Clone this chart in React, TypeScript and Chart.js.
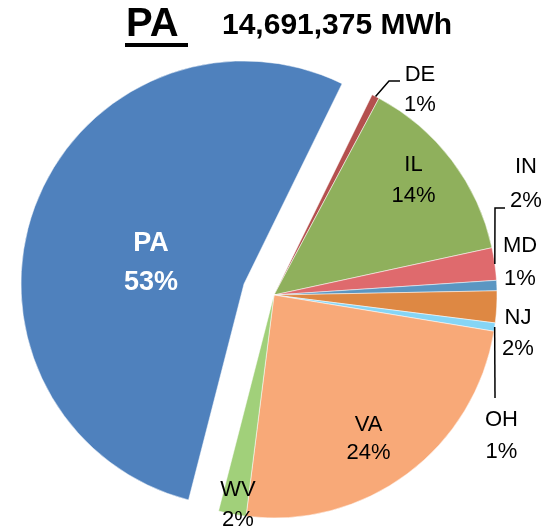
import React, { useEffect, useRef } from 'react';
import { Chart, registerables } from 'chart.js';

Chart.register(...registerables);

// ---- data ----
const categories = ['DE', 'IL', 'IN', 'MD', 'NJ', 'OH', 'VA', 'WV', 'PA'];
const shares = [0.55, 13.8, 2.35, 0.75, 2.3, 0.6, 24.4, 2.0, 53.25]; // % of total generation
const titleState = 'PA';
const titleTotal = '14,691,375 MWh';
const explodedCategory = 'PA';

// ---- styles ----
const colors = ['#B4504E', '#8FB05C', '#DF6A6D', '#5B96C2', '#DE8843', '#86D5F5', '#F8A978', '#A1D07A', '#4F81BD'];
const FONT = "'Liberation Sans', Arial, sans-serif";
const START_ANGLE = 26.1;
const RADIUS = 223;
const EXPLODE = 32;

// label anchor layout (centre of two-line label) and optional leader elbows
const labelLayout: Record<string, { x: number; y: number; lh?: number; color?: string; bold?: boolean; size?: number; leader?: number[][] }> = {
  DE: { x: 420, y: 90, lh: 30.5, leader: [[389, 81], [400, 81]] },
  IL: { x: 413.5, y: 180, lh: 31 },
  IN: { x: 526, y: 184, lh: 34, leader: [[495, 208], [505, 208]] },
  MD: { x: 520, y: 262, lh: 33 },
  NJ: { x: 518, y: 333.5, lh: 31 },
  OH: { x: 501.5, y: 436, lh: 31.5, leader: [[495, 398]] },
  VA: { x: 368.5, y: 439, lh: 28.5 },
  WV: { x: 238, y: 505, lh: 30 },
  PA: { x: 151, y: 263, lh: 39.5, color: '#ffffff', bold: true, size: 27 },
};

const explodePlugin = {
  id: 'explodeSlice',
  afterDatasetUpdate(chart: any, args: any) {
    const idx = categories.indexOf(explodedCategory);
    const arc: any = args.meta.data[idx];
    if (!arc) return;
    const mid = (arc.startAngle + arc.endAngle) / 2;
    arc.x += Math.cos(mid) * EXPLODE;
    arc.y += Math.sin(mid) * EXPLODE;
  },
};

const annotatePlugin = {
  id: 'annotate',
  afterDraw(chart: any) {
    const ctx: CanvasRenderingContext2D = chart.ctx;
    const meta = chart.getDatasetMeta(0);
    const total = shares.reduce((a, b) => a + b, 0);
    ctx.save();
    // title
    ctx.fillStyle = '#000';
    ctx.textBaseline = 'alphabetic';
    ctx.textAlign = 'left';
    ctx.font = `bold 40px ${FONT}`;
    ctx.fillText(titleState, 126, 36);
    ctx.fillRect(125, 43, 63, 4);
    ctx.font = `bold 30px ${FONT}`;
    ctx.fillText(titleTotal, 222, 34);

    // leaders
    ctx.strokeStyle = '#000';
    ctx.lineWidth = 1.5;
    categories.forEach((c, i) => {
      const L = labelLayout[c];
      if (!L || !L.leader) return;
      const arc: any = meta.data[i];
      const mid = (arc.startAngle + arc.endAngle) / 2;
      const sx = arc.x + Math.cos(mid) * arc.outerRadius;
      const sy = arc.y + Math.sin(mid) * arc.outerRadius;
      ctx.beginPath();
      ctx.moveTo(sx, sy);
      L.leader.forEach(([px, py]) => ctx.lineTo(px, py));
      ctx.stroke();
    });

    // labels
    ctx.textAlign = 'center';
    ctx.textBaseline = 'middle';
    categories.forEach((c, i) => {
      const L = labelLayout[c];
      if (!L) return;
      const lh = L.lh ?? 31;
      const size = L.size ?? 22;
      ctx.font = `${L.bold ? 'bold ' : ''}${size}px ${FONT}`;
      ctx.fillStyle = L.color ?? '#000';
      const pct = Math.round((shares[i] / total) * 100) + '%';
      ctx.fillText(c, L.x, L.y - lh / 2);
      ctx.fillText(pct, L.x, L.y + lh / 2);
    });
    ctx.restore();
  },
};

export default function App() {
  const ref = useRef<HTMLCanvasElement>(null);
  useEffect(() => {
    document.body.style.margin = '0';
    const chart = new Chart(ref.current as HTMLCanvasElement, {
      type: 'pie',
      data: {
        labels: categories,
        datasets: [
          {
            data: shares,
            backgroundColor: colors,
            borderColor: '#ffffff',
            borderWidth: 0.5,
          },
        ],
      },
      options: {
        animation: false,
        responsive: false,
        devicePixelRatio: 1,
        rotation: START_ANGLE,
        radius: RADIUS,
        events: [],
        layout: { padding: { left: 5, top: 61, right: 0, bottom: 0 } },
        plugins: {
          legend: { display: false },
          tooltip: { enabled: false },
          title: { display: false },
        },
      } as any,
      plugins: [explodePlugin, annotatePlugin],
    });
    return () => chart.destroy();
  }, []);
  return <canvas ref={ref} width={543} height={529} style={{ display: 'block' }} />;
}
